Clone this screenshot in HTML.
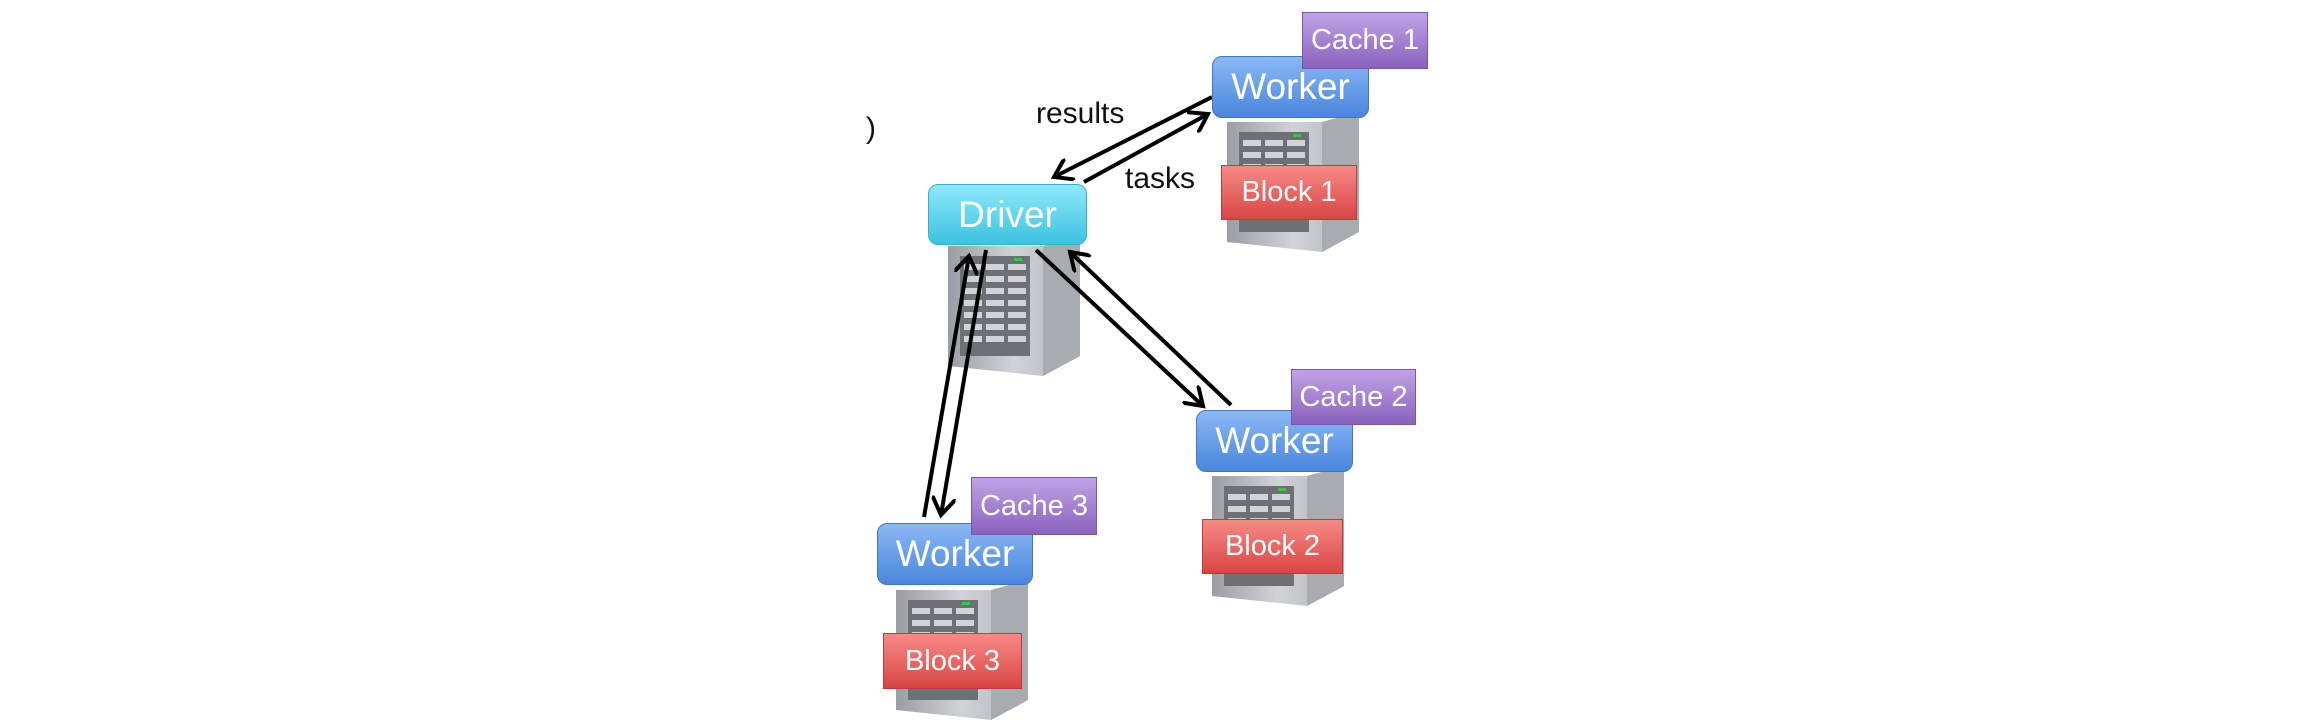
<!DOCTYPE html>
<html><head><style>
html,body{margin:0;padding:0;background:#fff;}
body{width:2304px;height:720px;position:relative;overflow:hidden;font-family:"Liberation Sans",sans-serif;}
.b{position:absolute;color:#fff;display:flex;align-items:center;justify-content:center;box-sizing:border-box;}
.w{border-radius:10px;background:linear-gradient(#8ab8f5,#4a86dc);font-size:37px;border:1px solid #3f78c8;}
.d{border-radius:10px;background:linear-gradient(#8ee9fb,#3cc2e0);font-size:37px;border:1px solid #35b0cf;}
.c{background:linear-gradient(#c0a3e6,#8a62bd);font-size:29px;border:1px solid #7a55aa;}
.k{background:linear-gradient(#f78a87,#d84643);font-size:29px;border:1px solid #c03a38;}
.t{position:absolute;font-size:30px;color:#111;}
</style></head><body>
<svg width="2304" height="720" style="position:absolute;left:0;top:0">
<defs>
<linearGradient id="sv" x1="0" x2="1"><stop offset="0" stop-color="#9a9ea4"/><stop offset=".5" stop-color="#d0d3d7"/><stop offset="1" stop-color="#aeb2b7"/></linearGradient>
<g id="srv">
<polygon points="0,0 95,0 132,-10 132,110 95,130 0,120" fill="url(#sv)"/>
<polygon points="95,0 132,-10 132,110 95,130" fill="#a8acb1"/>
<rect x="12" y="10" width="70" height="100" fill="#6d7176"/>
<g fill="#d0d4d8">
<rect x="16" y="18" width="18" height="6"/><rect x="38" y="18" width="18" height="6"/><rect x="60" y="18" width="18" height="6"/>
<rect x="16" y="30" width="18" height="6"/><rect x="38" y="30" width="18" height="6"/><rect x="60" y="30" width="18" height="6"/>
<rect x="16" y="42" width="18" height="6"/><rect x="38" y="42" width="18" height="6"/><rect x="60" y="42" width="18" height="6"/>
<rect x="16" y="54" width="18" height="6"/><rect x="38" y="54" width="18" height="6"/><rect x="60" y="54" width="18" height="6"/>
<rect x="16" y="66" width="18" height="6"/><rect x="38" y="66" width="18" height="6"/><rect x="60" y="66" width="18" height="6"/>
<rect x="16" y="78" width="18" height="6"/><rect x="38" y="78" width="18" height="6"/><rect x="60" y="78" width="18" height="6"/>
<rect x="16" y="90" width="18" height="6"/><rect x="38" y="90" width="18" height="6"/><rect x="60" y="90" width="18" height="6"/>
</g>
<rect x="66" y="12" width="8" height="3" fill="#3c3"/>
</g>
<marker id="ah" markerWidth="6" markerHeight="6" refX="4.5" refY="3" orient="auto" markerUnits="strokeWidth"><path d="M0,0 L4.5,3 L0,6" fill="none" stroke="#000" stroke-width="1"/></marker>
</defs>
<use href="#srv" x="1227" y="122"/>
<use href="#srv" x="948" y="246"/>
<use href="#srv" x="1212" y="476"/>
<use href="#srv" x="896" y="590"/>
<g stroke="#000" stroke-width="4" fill="none" marker-end="url(#ah)">
<line x1="1212" y1="97" x2="1054" y2="177"/>
<line x1="1084" y1="182" x2="1208" y2="114"/>
<line x1="1036" y1="250" x2="1203" y2="406"/>
<line x1="1231" y1="405" x2="1070" y2="252"/>
<line x1="986" y1="250" x2="941" y2="515"/>
<line x1="924" y1="517" x2="969" y2="256"/>
</g>
</svg>
<div class="b w" style="left:1212px;top:56px;width:157px;height:62px">Worker</div>
<div class="b c" style="left:1302px;top:12px;width:126px;height:57px">Cache 1</div>
<div class="b k" style="left:1221px;top:165px;width:136px;height:55px">Block 1</div>
<div class="b d" style="left:928px;top:184px;width:159px;height:61px">Driver</div>
<div class="b w" style="left:1196px;top:410px;width:157px;height:62px">Worker</div>
<div class="b c" style="left:1291px;top:369px;width:125px;height:56px">Cache 2</div>
<div class="b k" style="left:1202px;top:519px;width:141px;height:55px">Block 2</div>
<div class="b w" style="left:877px;top:523px;width:156px;height:62px">Worker</div>
<div class="b c" style="left:971px;top:477px;width:126px;height:58px">Cache 3</div>
<div class="b k" style="left:883px;top:633px;width:139px;height:56px">Block 3</div>
<div class="t" style="left:1036px;top:97px">results</div>
<div class="t" style="left:1125px;top:162px">tasks</div>
<div class="t" style="left:866px;top:112px">)</div>
</body></html>
